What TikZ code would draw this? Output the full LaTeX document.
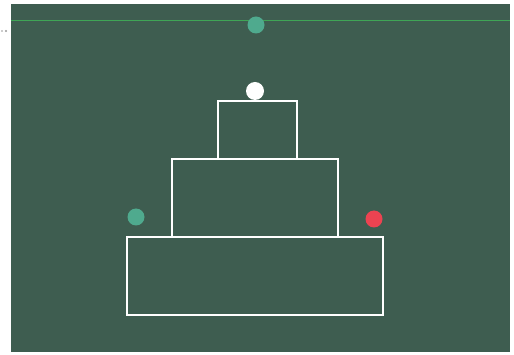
\documentclass[tikz,border=0pt]{standalone}
\definecolor{board}{HTML}{3E5D50}
\definecolor{ballgreen}{HTML}{4FAA8E}
\definecolor{ballred}{HTML}{EC4351}
\definecolor{topline}{HTML}{3FA556}
\definecolor{dotgray}{HTML}{9A9A9A}
\begin{document}
\begin{tikzpicture}[x=1pt,y=-1pt,
  tier/.style={draw=white,line width=1.8pt,fill=none},
  ball/.style={circle,inner sep=0pt,minimum size=17pt,draw=none}]
\useasboundingbox (0,0) rectangle (514,355);
\fill[white] (0,0) rectangle (514,355);
\fill[board] (11,4) rectangle (510,352);
\draw[topline,line width=0.8pt] (11,20) -- (510,20);
\fill[dotgray] (2,31) circle (0.8);
\fill[dotgray] (6,31) circle (1.2);
\draw[tier] (127,237) rectangle (383,315);
\draw[tier] (172,159) rectangle (338,237);
\draw[tier] (218,101) rectangle (297,159);
\node[ball,fill=ballgreen] (gtop) at (256,25) {};
\node[ball,fill=white,minimum size=18pt] (wball) at (255,91) {};
\node[ball,fill=ballgreen] (gleft) at (136,217) {};
\node[ball,fill=ballred] (rright) at (374,219) {};
\end{tikzpicture}
\end{document}
